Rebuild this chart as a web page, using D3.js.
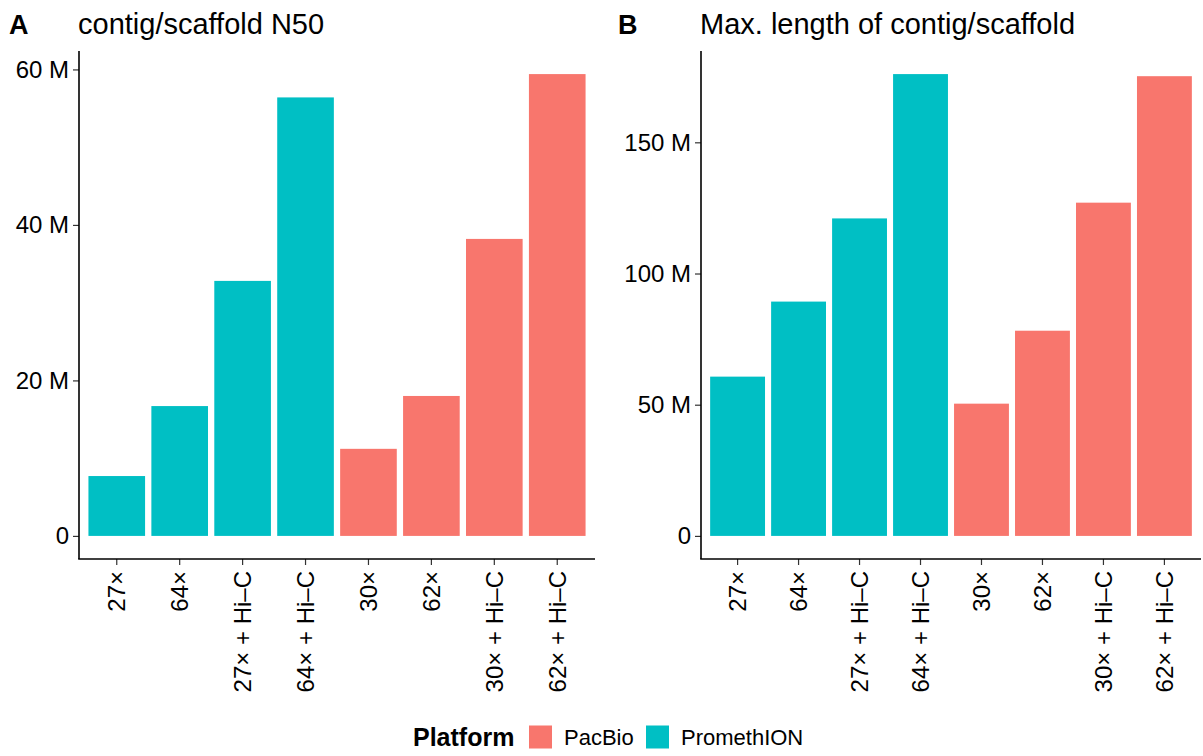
<!DOCTYPE html>
<html>
<head>
<meta charset="utf-8">
<script src="https://cdn.jsdelivr.net/npm/d3@7"></script>
<style>
  body { margin: 0; background: #fff; }
  svg text { font-family: "Liberation Sans", Arial, Helvetica, sans-serif; fill: #000; }
</style>
</head>
<body>
<div id="chart"></div>
<script>
var categories = ["27×", "64×", "27× + Hi–C", "64× + Hi–C", "30×", "62×", "30× + Hi–C", "62× + Hi–C"];
var platforms = ["PromethION", "PromethION", "PromethION", "PromethION", "PacBio", "PacBio", "PacBio", "PacBio"];
var n50Values = [7.7, 16.7, 32.8, 56.4, 11.2, 18.0, 38.2, 59.4];       // millions
var maxLenValues = [60.7, 89.3, 121, 176, 50.4, 78.2, 127, 175.2];     // millions
var n50Ticks = [0, 20, 40, 60];
var maxLenTicks = [0, 50, 100, 150];
var legendKeys = ["PacBio", "PromethION"];
var legendColors = ["#F8766D", "#00BFC4"];

var W = 1203, H = 756;

var svg = d3.select("#chart").append("svg")
    .attr("width", W)
    .attr("height", H);

var color = d3.scaleOrdinal()
    .domain(legendKeys)
    .range(legendColors);

function fmt(d) { return d === 0 ? "0" : d + " M"; }

function drawPanel(opts) {
    var top = 51, bottom = 559;
    var vmax = d3.max(opts.values);

    var x = d3.scaleBand()
        .domain(categories)
        .range([opts.x0, opts.x1])
        .paddingInner(0.1)
        .paddingOuter(0.15);

    var y = d3.scaleLinear()
        .domain([-vmax * 0.05, vmax * 1.05])
        .range([bottom, top]);

    var g = svg.append("g");

    g.selectAll(".bar")
        .data(opts.values)
        .enter().append("rect")
            .attr("class", "bar")
            .attr("x", function(d, i) { return x(categories[i]); })
            .attr("width", x.bandwidth())
            .attr("y", function(d) { return y(d); })
            .attr("height", function(d) { return y(0) - y(d); })
            .attr("fill", function(d, i) { return color(platforms[i]); });

    var yAxis = d3.axisLeft(y)
        .tickValues(opts.ticks)
        .tickFormat(fmt)
        .tickSize(6)
        .tickPadding(4);

    var xAxis = d3.axisBottom(x)
        .tickSize(6)
        .tickSizeOuter(0);

    var ya = g.append("g")
        .attr("transform", "translate(" + opts.x0 + ",0)")
        .call(yAxis);
    ya.select(".domain").remove();
    ya.selectAll("text").style("font-size", "24px");

    var xa = g.append("g")
        .attr("transform", "translate(0," + bottom + ")")
        .call(xAxis);
    xa.select(".domain").remove();
    xa.selectAll("text")
        .style("font-size", "24px")
        .style("text-anchor", "end")
        .attr("transform", "rotate(-90)")
        .attr("x", -12)
        .attr("y", 0)
        .attr("dy", "0.35em");

    g.selectAll(".tick line").attr("stroke", "#333").attr("stroke-width", 1.2);

    // axis lines (theme_classic)
    g.append("line")
        .attr("x1", opts.x0).attr("x2", opts.x0)
        .attr("y1", top).attr("y2", bottom)
        .attr("stroke", "#000").attr("stroke-width", 1.6);
    g.append("line")
        .attr("x1", opts.x0 - 0.8).attr("x2", opts.x1)
        .attr("y1", bottom).attr("y2", bottom)
        .attr("stroke", "#000").attr("stroke-width", 1.6);

    svg.append("text")
        .attr("x", opts.labelX).attr("y", 34)
        .style("font-size", "27px").style("font-weight", "bold")
        .text(opts.label);
    svg.append("text")
        .attr("x", opts.x0 - 1).attr("y", 34)
        .style("font-size", "29px")
        .text(opts.title);
}

drawPanel({ values: n50Values, ticks: n50Ticks, x0: 79, x1: 595,
            label: "A", labelX: 9, title: "contig/scaffold N50" });
drawPanel({ values: maxLenValues, ticks: maxLenTicks, x0: 701, x1: 1201,
            label: "B", labelX: 618, title: "Max. length of contig/scaffold" });

// legend
var legend = svg.append("g").attr("transform", "translate(413,737)");
legend.append("text")
    .attr("x", 0).attr("y", 0).attr("dy", "0.35em")
    .style("font-size", "25px").style("font-weight", "bold")
    .text("Platform");

var keyX = [116, 233];
var item = legend.selectAll(".key")
    .data(legendKeys)
    .enter().append("g")
    .attr("class", "key")
    .attr("transform", function(d, i) { return "translate(" + keyX[i] + ",0)"; });
item.append("rect")
    .attr("x", 0).attr("y", -11.5)
    .attr("width", 23).attr("height", 23)
    .attr("fill", function(d) { return color(d); });
item.append("text")
    .attr("x", 35).attr("y", 0).attr("dy", "0.35em")
    .style("font-size", "22px")
    .text(function(d) { return d; });
</script>
</body>
</html>
